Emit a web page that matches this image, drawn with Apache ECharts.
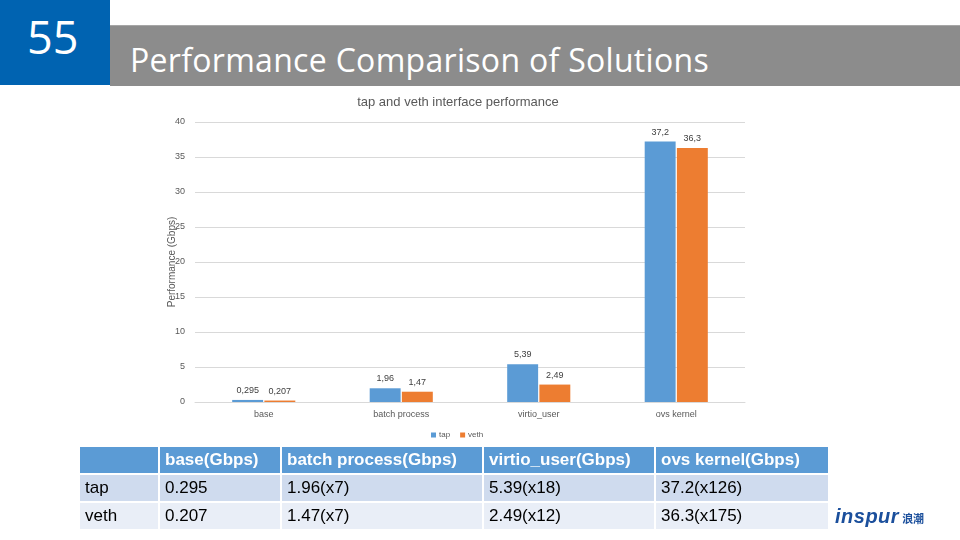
<!DOCTYPE html>
<html>
<head>
<meta charset="utf-8">
<script src="https://cdn.jsdelivr.net/npm/echarts@6/dist/echarts.min.js"></script>
<style>
  html, body { margin:0; padding:0; background:#fff; }
  #wrap { position:relative; width:960px; height:540px; overflow:hidden; font-family:"Liberation Sans", Arial, sans-serif; }
  #chart { position:absolute; left:0; top:0; width:960px; height:540px; }
  #num { position:absolute; left:0; top:0; width:110px; height:85px; background:#0063b1; color:#fff;
         font-family:"Open Sans", "Noto Sans", sans-serif; font-size:45px; line-height:45px; }
  #num span { position:absolute; left:27px; top:14px; }
  #bar { position:absolute; left:110px; top:25px; width:850px; height:60px; background:#8c8c8c; border-top:1px solid #a6a6a6; }
  #bar span { position:absolute; left:20px; top:14px; color:#fff; font-family:"Open Sans", "Noto Sans", sans-serif; font-size:32px; letter-spacing:0.3px; line-height:40px; }
  #tbl { position:absolute; left:78px; top:445px; border-collapse:separate; border-spacing:2px 2px; font-family:"Liberation Sans", Arial, sans-serif; font-size:17px; }
  #tbl td { padding:0 0 0 5px; height:26px; color:#000; }
  #tbl tr.h td { background:#5b9bd5; color:#fff; font-weight:bold; }
  #tbl tr.r1 td { background:#cfdbee; }
  #tbl tr.r2 td { background:#e9eef7; }
  #logo { position:absolute; left:835px; top:505px; color:#1b4f9c; white-space:nowrap; }
  #logo .a { font-family:"Liberation Sans", Arial, sans-serif; font-weight:bold; font-style:italic; font-size:20px; letter-spacing:0.5px; }
  #logo .b { font-family:"Noto Sans CJK SC", sans-serif; font-size:11px; margin-left:3px; font-weight:bold; }
</style>
</head>
<body>
<div id="wrap">
  <div id="chart"></div>
  <div id="num"><span>55</span></div>
  <div id="bar"><span>Performance Comparison of Solutions</span></div>
  <table id="tbl"></table>
  <div id="logo"><span class="a">inspur</span><span class="b">浪潮</span></div>
</div>
<script>
const categories = ['base', 'batch process', 'virtio_user', 'ovs kernel'];
const seriesNames = ['tap', 'veth'];
const tapValues = [0.295, 1.96, 5.39, 37.2];
const vethValues = [0.207, 1.47, 2.49, 36.3];
const tapFactors = [null, 7, 18, 126];
const vethFactors = [null, 7, 12, 175];
const tableHeaders = ['', 'base(Gbps)', 'batch process(Gbps)', 'virtio_user(Gbps)', 'ovs kernel(Gbps)'];
const colWidths = [73, 115, 195, 165, 167];

// build table
(function () {
  const t = document.getElementById('tbl');
  let html = '<tr class="h">' + tableHeaders.map((h, i) => '<td style="width:' + colWidths[i] + 'px">' + h + '</td>').join('') + '</tr>';
  const rows = [[seriesNames[0], tapValues, tapFactors], [seriesNames[1], vethValues, vethFactors]];
  rows.forEach((r, ri) => {
    html += '<tr class="r' + (ri + 1) + '"><td>' + r[0] + '</td>' +
      r[1].map((v, i) => '<td>' + v + (r[2][i] ? '(x' + r[2][i] + ')' : '') + '</td>').join('') + '</tr>';
  });
  t.innerHTML = html;
})();

const comma = v => String(v).replace('.', ',');
const chart = echarts.init(document.getElementById('chart'));
const txt = '#595959';
chart.setOption({
  animation: false,
  backgroundColor: 'transparent',
  textStyle: { fontFamily: '"Liberation Sans", Arial, sans-serif' },
  title: {
    text: 'tap and veth interface performance',
    left: 453, textAlign: 'center', top: 91,
    textStyle: { fontSize: 13, fontWeight: 'normal', color: txt }
  },
  legend: {
    data: seriesNames, top: 426, left: 426,
    itemWidth: 5, itemHeight: 5, itemGap: 10, icon: 'rect',
    textStyle: { fontSize: 8, color: txt, padding: [0, 0, 0, -2] }
  },
  grid: { left: 195, right: 215, top: 122, bottom: 138 },
  xAxis: {
    type: 'category', data: categories,
    axisLine: { lineStyle: { color: '#d9d9d9' } },
    axisTick: { show: false },
    axisLabel: { fontSize: 9, color: txt, margin: 8 }
  },
  yAxis: {
    type: 'value', min: 0, max: 40, interval: 5,
    name: 'Performance (Gbps)', nameLocation: 'middle', nameRotate: 90, nameGap: 18,
    nameMoveOverlap: false,
    nameTextStyle: { fontSize: 10, color: txt },
    axisLine: { show: false }, axisTick: { show: false },
    axisLabel: { fontSize: 9, color: txt, margin: 10 },
    splitLine: { lineStyle: { color: '#d9d9d9' } }
  },
  series: [
    { name: seriesNames[0], type: 'bar', data: tapValues, barWidth: '22.5%', barGap: '4%',
      itemStyle: { color: '#5b9bd5' },
      label: { show: true, position: 'top', distance: 5, fontSize: 9, color: '#404040', formatter: p => comma(p.value) } },
    { name: seriesNames[1], type: 'bar', data: vethValues, barWidth: '22.5%',
      itemStyle: { color: '#ed7d31' },
      label: { show: true, position: 'top', distance: 5, fontSize: 9, color: '#404040', formatter: p => comma(p.value) } }
  ]
});
</script>
</body>
</html>
